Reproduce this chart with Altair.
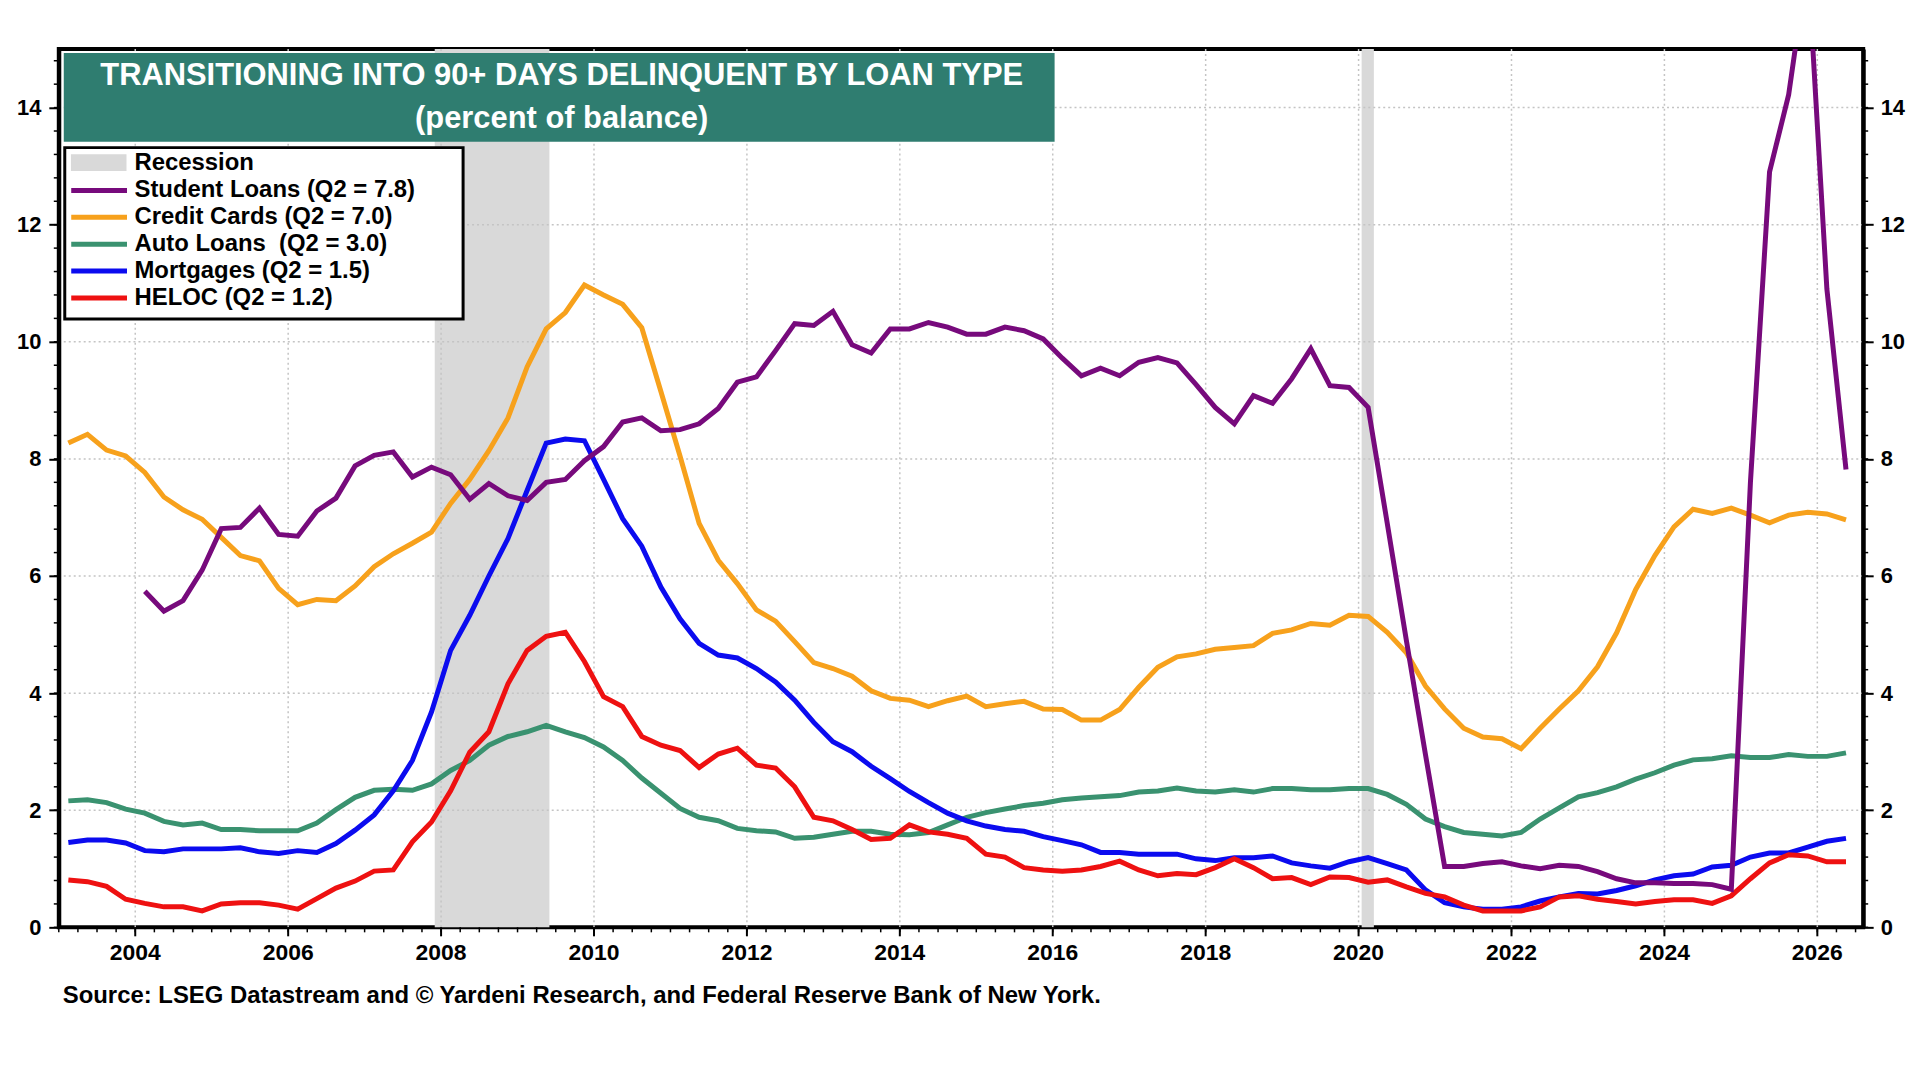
import altair as alt
import pandas as pd

# quarterly observations, plotted at mid-quarter (2003Q1 .. 2026Q2 on this chart's axis)
quarters = [2003.125 + 0.25 * i for i in range(94)]

student_loans = [
    None, None, None, None,
    5.74, 5.40, 5.58, 6.10,
    6.81, 6.83, 7.16, 6.71,
    6.68, 7.11, 7.33, 7.88,
    8.06, 8.12, 7.69, 7.86,
    7.73, 7.31, 7.58, 7.37,
    7.29, 7.60, 7.65, 7.97,
    8.21, 8.63, 8.70, 8.48,
    8.50, 8.60, 8.86, 9.31,
    9.40, 9.85, 10.31, 10.28,
    10.52, 9.95, 9.81, 10.22,
    10.22, 10.33, 10.25, 10.13,
    10.13, 10.25, 10.19, 10.05,
    9.72, 9.42, 9.55, 9.42,
    9.65, 9.73, 9.64, 9.27,
    8.88, 8.60, 9.08, 8.95,
    9.37, 9.88, 9.25, 9.22,
    8.88, 6.90, 4.90, 2.95,
    1.04, 1.04, 1.09, 1.12,
    1.05, 1.00, 1.06, 1.04,
    0.95, 0.83, 0.76, 0.76,
    0.75, 0.75, 0.73, 0.65,
    7.60, 12.90, 14.22, 16.50,
    10.90, 7.82,
]

credit_cards = [
    8.27, 8.42, 8.15, 8.05,
    7.77, 7.35, 7.13, 6.97,
    6.66, 6.35, 6.26, 5.79,
    5.51, 5.60, 5.58, 5.83,
    6.16, 6.38, 6.56, 6.75,
    7.24, 7.65, 8.14, 8.70,
    9.57, 10.22, 10.50, 10.97,
    10.80, 10.64, 10.24, 9.15,
    8.05, 6.90, 6.27, 5.87,
    5.42, 5.23, 4.88, 4.52,
    4.42, 4.29, 4.04, 3.91,
    3.88, 3.77, 3.87, 3.95,
    3.77, 3.82, 3.86, 3.73,
    3.72, 3.54, 3.54, 3.72,
    4.10, 4.44, 4.62, 4.67,
    4.75, 4.78, 4.81, 5.02,
    5.08, 5.19, 5.16, 5.33,
    5.31, 5.04, 4.69, 4.12,
    3.73, 3.40, 3.25, 3.22,
    3.05, 3.40, 3.73, 4.04,
    4.45, 5.03, 5.77, 6.35,
    6.84, 7.14, 7.07, 7.16,
    7.04, 6.91, 7.04, 7.09,
    7.06, 6.96,
]

auto_loans = [
    2.16, 2.18, 2.13, 2.02,
    1.95, 1.81, 1.75, 1.78,
    1.67, 1.67, 1.65, 1.65,
    1.65, 1.78, 2.01, 2.22,
    2.34, 2.36, 2.34, 2.45,
    2.68, 2.85, 3.11, 3.26,
    3.34, 3.45, 3.34, 3.24,
    3.08, 2.85, 2.55, 2.29,
    2.03, 1.88, 1.82, 1.69,
    1.65, 1.63, 1.52, 1.54,
    1.59, 1.64, 1.64, 1.59,
    1.58, 1.62, 1.75, 1.88,
    1.96, 2.02, 2.08, 2.12,
    2.18, 2.21, 2.23, 2.25,
    2.31, 2.33, 2.38, 2.33,
    2.31, 2.35, 2.31, 2.37,
    2.37, 2.35, 2.35, 2.37,
    2.37, 2.27, 2.10, 1.85,
    1.72, 1.62, 1.59, 1.56,
    1.62, 1.85, 2.04, 2.23,
    2.30, 2.40, 2.53, 2.64,
    2.77, 2.86, 2.88, 2.93,
    2.90, 2.90, 2.95, 2.92,
    2.92, 2.98,
]

mortgages = [
    1.45, 1.49, 1.49, 1.44,
    1.31, 1.29, 1.34, 1.34,
    1.34, 1.36, 1.29, 1.26,
    1.31, 1.28, 1.43, 1.66,
    1.92, 2.33, 2.85, 3.68,
    4.73, 5.33, 6.00, 6.64,
    7.46, 8.27, 8.34, 8.31,
    7.65, 6.98, 6.51, 5.81,
    5.27, 4.85, 4.65, 4.60,
    4.42, 4.19, 3.88, 3.50,
    3.17, 3.00, 2.75, 2.54,
    2.32, 2.13, 1.95, 1.82,
    1.73, 1.67, 1.64, 1.55,
    1.48, 1.41, 1.28, 1.28,
    1.25, 1.25, 1.25, 1.17,
    1.14, 1.19, 1.19, 1.22,
    1.10, 1.05, 1.01, 1.12,
    1.19, 1.09, 0.98, 0.64,
    0.42, 0.35, 0.31, 0.31,
    0.35, 0.45, 0.52, 0.58,
    0.57, 0.63, 0.71, 0.81,
    0.88, 0.91, 1.03, 1.06,
    1.20, 1.27, 1.27, 1.37,
    1.47, 1.52,
]

heloc = [
    0.81, 0.78, 0.70, 0.48,
    0.41, 0.35, 0.35, 0.28,
    0.40, 0.42, 0.42, 0.38,
    0.31, 0.49, 0.67, 0.79,
    0.96, 0.98, 1.46, 1.80,
    2.33, 2.99, 3.34, 4.16,
    4.73, 4.97, 5.04, 4.54,
    3.94, 3.77, 3.26, 3.11,
    3.02, 2.73, 2.96, 3.06,
    2.77, 2.72, 2.40, 1.88,
    1.82, 1.67, 1.50, 1.52,
    1.75, 1.63, 1.59, 1.52,
    1.25, 1.20, 1.02, 0.98,
    0.96, 0.98, 1.04, 1.13,
    0.98, 0.88, 0.92, 0.90,
    1.02, 1.17, 1.02, 0.83,
    0.85, 0.73, 0.86, 0.85,
    0.77, 0.81, 0.69, 0.58,
    0.52, 0.38, 0.28, 0.28,
    0.28, 0.35, 0.52, 0.54,
    0.48, 0.44, 0.40, 0.44,
    0.47, 0.47, 0.41, 0.54,
    0.83, 1.10, 1.24, 1.22,
    1.12, 1.12,
]

series_names = [
    "Student Loans (Q2 = 7.8)",
    "Credit Cards (Q2 = 7.0)",
    "Auto Loans\u00a0 (Q2 = 3.0)",
    "Mortgages (Q2 = 1.5)",
    "HELOC (Q2 = 1.2)",
]
series_colors = ["#770a7c", "#f7a11c", "#3a9270", "#0b0bef", "#ee1111"]
series_values = [student_loans, credit_cards, auto_loans, mortgages, heloc]
draw_order = [2, 3, 4, 1, 0]  # student loans ends up on top

recession_start = [2007.917, 2020.04]
recession_end = [2009.417, 2020.2]

x_grid = [2004, 2006, 2008, 2010, 2012, 2014, 2016, 2018, 2020, 2022, 2024, 2026]
y_grid = [2, 4, 6, 8, 10, 12, 14]
y_labels = [0, 2, 4, 6, 8, 10, 12, 14]
x_minor = [2003 + 0.25 * i for i in range(95)]
y_minor = [round(0.4 * i, 1) for i in range(38)]

title_1 = "TRANSITIONING INTO 90+ DAYS DELINQUENT BY LOAN TYPE"
title_2 = "(percent of balance)"
source = "Source: LSEG Datastream and \u00a9 Yardeni Research, and Federal Reserve Bank of New York."

FONT = "Liberation Sans"
W, H = 1812, 882

rows = []
for name, vals in zip(series_names, series_values):
    for t, v in zip(quarters, vals):
        if v is not None:
            rows.append({"t": t, "v": v, "series": name})
df = pd.DataFrame(rows)

rec_df = pd.DataFrame({"start": recession_start, "end": recession_end, "label": ["Recession"] * 2})
one = pd.DataFrame({"k": [0]})
years_df = pd.DataFrame({"yr": x_grid, "lab": [str(y) for y in x_grid]})

x_scale = alt.Scale(domain=[2003.0, 2026.6], nice=False, zero=False)
y_scale = alt.Scale(domain=[0, 15], nice=False)

axis_common = dict(title=None, grid=False, tickSize=10, tickWidth=2, tickColor="black",
                   domainColor="black", domainWidth=4, labelFont=FONT, labelFontSize=22,
                   labelFontWeight="bold", labelColor="black", zindex=1)
left_axis = alt.Axis(values=y_labels, orient="left", labelPadding=8, **axis_common)
right_axis = alt.Axis(values=y_labels, orient="right", labelPadding=7, **axis_common)

recession = alt.Chart(rec_df).mark_rect().encode(
    x=alt.X("start:Q", scale=x_scale, axis=None),
    x2="end:Q",
    y=alt.value(0),
    y2=alt.value(H),
    fill=alt.Fill("label:N", scale=alt.Scale(domain=["Recession"], range=["#d9d9d9"]),
                  legend=alt.Legend(title=None, orient="none", legendX=12, legendY=103,
                                    direction="vertical", symbolType="M-1,-0.3H1V0.3H-1Z",
                                    symbolSize=3136, symbolStrokeWidth=0, symbolOpacity=1,
                                    labelFont=FONT, labelFontSize=24, labelFontWeight="bold",
                                    labelColor="black", labelOffset=8, clipHeight=22,
                                    padding=0, labelLimit=400)),
)

grid_style = dict(color="#c4c4c4", strokeWidth=1.5, strokeDash=[2, 3])
vgrid = alt.Chart(pd.DataFrame({"g": x_grid})).mark_rule(**grid_style).encode(
    x=alt.X("g:Q", scale=x_scale, axis=None)
)
hgrid = alt.Chart(pd.DataFrame({"g": y_grid})).mark_rule(**grid_style).encode(
    y=alt.Y("g:Q", scale=y_scale, axis=right_axis)
)

title_box = alt.Chart(one).mark_rect(color="#2f7d70").encode(
    x=alt.value(5), x2=alt.value(1000), y=alt.value(4), y2=alt.value(93)
)
title_style = dict(font=FONT, fontSize=31, fontWeight="bold", color="white",
                   align="center", baseline="middle")
title_a = alt.Chart(one).mark_text(**title_style).encode(
    x=alt.value(505), y=alt.value(27), text=alt.value(title_1)
)
title_b = alt.Chart(one).mark_text(**title_style).encode(
    x=alt.value(505), y=alt.value(70), text=alt.value(title_2)
)

legend_frame = alt.Chart(one).mark_rect(fill="white", stroke="black", strokeWidth=3).encode(
    x=alt.value(6), x2=alt.value(406), y=alt.value(99), y2=alt.value(271)
)

# bottom axis: quarterly minor ticks, bi-annual major ticks and year labels
tick_style = dict(color="black", strokeWidth=1.5)
x_ticks = alt.Chart(pd.DataFrame({"q": x_minor})).mark_rule(**tick_style).encode(
    x=alt.X("q:Q", scale=x_scale, axis=None), y=alt.value(H), y2=alt.value(H + 5)
)
x_major = alt.Chart(years_df).mark_rule(color="black", strokeWidth=2).encode(
    x=alt.X("yr:Q", scale=x_scale, axis=None), y=alt.value(H), y2=alt.value(H + 9)
)
x_labels = alt.Chart(years_df).mark_text(font=FONT, fontSize=23, fontWeight="bold", color="black",
                                         baseline="middle").encode(
    x=alt.X("yr:Q", scale=x_scale, axis=None), y=alt.value(H + 26), text="lab:N"
)
y_ticks_left = alt.Chart(pd.DataFrame({"m": y_minor})).mark_rule(**tick_style).encode(
    y=alt.Y("m:Q", scale=y_scale, axis=None), x=alt.value(-5), x2=alt.value(0)
)
y_ticks_right = alt.Chart(pd.DataFrame({"m": y_minor})).mark_rule(**tick_style).encode(
    y=alt.Y("m:Q", scale=y_scale, axis=None), x=alt.value(W), x2=alt.value(W + 5)
)

line_legend = alt.Legend(title=None, orient="none", legendX=10, legendY=131, direction="vertical",
                         symbolType="stroke", symbolSize=3136, symbolStrokeWidth=5,
                         labelFont=FONT, labelFontSize=24, labelFontWeight="bold",
                         labelColor="black", labelOffset=5, clipHeight=22, rowPadding=3,
                         padding=0, labelLimit=400)

lines = []
for n, idx in enumerate(draw_order):
    name = series_names[idx]
    lines.append(
        alt.Chart(df).transform_filter(alt.datum.series == name)
        .mark_line(strokeWidth=5, clip=True)
        .encode(
            x=alt.X("t:Q", scale=x_scale, axis=None),
            y=alt.Y("v:Q", scale=y_scale, axis=left_axis if n == 0 else None),
            stroke=alt.Stroke("series:N", scale=alt.Scale(domain=series_names, range=series_colors),
                              legend=line_legend),
        )
    )

source_text = alt.Chart(one).mark_text(font=FONT, fontSize=24, fontWeight="bold", color="black",
                                       align="left", baseline="middle").encode(
    x=alt.value(4), y=alt.value(951), text=alt.value(source)
)

chart = alt.layer(
    recession, vgrid, hgrid, title_box, title_a, title_b, legend_frame,
    x_ticks, x_major, x_labels, y_ticks_left, y_ticks_right, *lines, source_text
).resolve_axis(y="independent").properties(
    width=W, height=H,
    padding={"left": 51, "top": 39, "right": 49, "bottom": 130},
    autosize=alt.AutoSizeParams(type="none"),
    background="white",
).configure_view(stroke="black", strokeWidth=4)

chart.save("out.html", embed_options={"renderer": "svg", "actions": False})
